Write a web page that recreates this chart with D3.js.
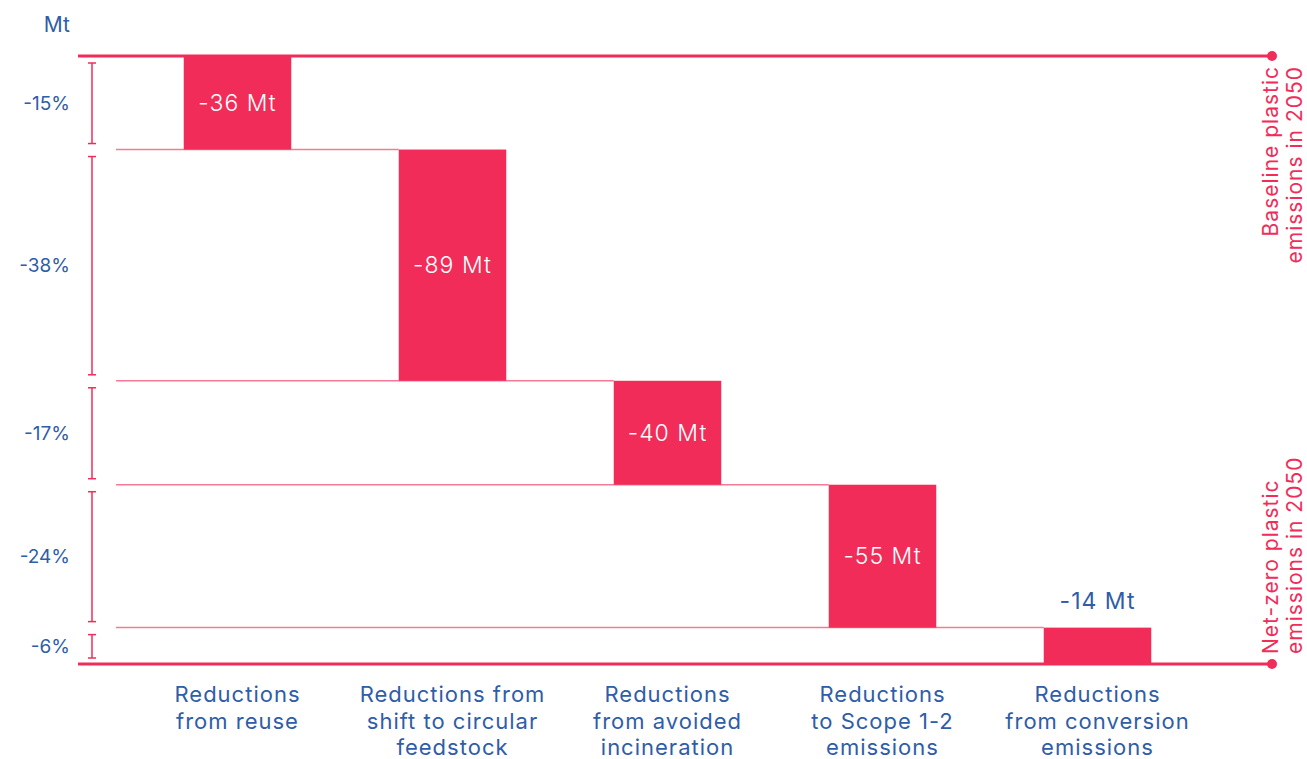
<!DOCTYPE html>
<html>
<head>
<meta charset="utf-8">
<script src="https://cdn.jsdelivr.net/npm/d3@7"></script>
<style>
  body { margin: 0; background: #fff; }
  svg { display: block; font-family: Inter, "Noto Sans", sans-serif; }
</style>
</head>
<body>
<div id="chart"></div>
<script>
// data
const categories = ['reuse', 'feedstock', 'incineration', 'scope', 'conversion'];
const categoryLines = [
  ['Reductions', 'from reuse'],
  ['Reductions from', 'shift to circular', 'feedstock'],
  ['Reductions', 'from avoided', 'incineration'],
  ['Reductions', 'to Scope 1-2', 'emissions'],
  ['Reductions', 'from conversion', 'emissions']
];
const reductions = [36, 89, 40, 55, 14];
const shares = ['-15%', '-38%', '-17%', '-24%', '-6%'];
const baselineLabel = ['Baseline plastic', 'emissions in 2050'];
const netZeroLabel = ['Net-zero plastic', 'emissions in 2050'];

const width = 1307, height = 759;
const pink = '#f22c59', lightPink = '#f47b96', blue = '#2f5da7';

const svg = d3.select('#chart').append('svg')
  .attr('width', width)
  .attr('height', height);

// running totals for the waterfall
let acc = 0;
const steps = reductions.map((v, i) => {
  const s = { cat: categories[i], start: acc, end: acc + v, value: v, share: shares[i] };
  acc += v;
  return s;
});
const total = acc;

const x = d3.scaleBand()
  .domain(categories)
  .range([130, 1205])
  .paddingInner(0.5)
  .paddingOuter(0.25);

const y = d3.scaleLinear()
  .domain([0, total])
  .range([56, 664]);

// thin connectors from the left to the next bar
svg.selectAll('line.conn')
  .data(steps.slice(0, -1))
  .enter().append('line')
  .attr('class', 'conn')
  .attr('x1', 116)
  .attr('x2', (d, i) => x(categories[i + 1]))
  .attr('y1', d => y(d.end))
  .attr('y2', d => y(d.end))
  .attr('stroke', lightPink)
  .attr('stroke-width', 1.5);

// bars
svg.selectAll('rect')
  .data(steps)
  .enter().append('rect')
  .attr('x', d => x(d.cat))
  .attr('y', d => y(d.start))
  .attr('width', x.bandwidth())
  .attr('height', d => y(d.end) - y(d.start))
  .attr('fill', pink);

// bar labels, the small last one goes above the bar
svg.selectAll('text.val')
  .data(steps)
  .enter().append('text')
  .attr('class', 'val')
  .attr('x', d => x(d.cat) + x.bandwidth() / 2)
  .attr('y', d => d.value < 20 ? y(d.start) - 19 : (y(d.start) + y(d.end)) / 2 + 8)
  .attr('text-anchor', 'middle')
  .attr('font-size', 23)
  .attr('font-weight', d => d.value < 20 ? 400 : 300)
  .attr('letter-spacing', 1)
  .attr('fill', d => d.value < 20 ? blue : '#fff')
  .text(d => '-' + d.value + ' Mt');

// baseline and net-zero lines
const ends = [
  { v: 0, lines: baselineLabel, anchor: 'end', off: 10 },
  { v: total, lines: netZeroLabel, anchor: 'start', off: -10 }
];
ends.forEach(e => {
  svg.append('line')
    .attr('x1', 78).attr('x2', 1272)
    .attr('y1', y(e.v)).attr('y2', y(e.v))
    .attr('stroke', pink)
    .attr('stroke-width', 3);
  svg.append('circle')
    .attr('cx', 1272).attr('cy', y(e.v))
    .attr('r', 5)
    .attr('fill', pink);
  const t = svg.append('text')
    .attr('transform', `translate(1278,${y(e.v) + e.off}) rotate(-90)`)
    .attr('text-anchor', e.anchor)
    .attr('font-size', 21)
    .attr('letter-spacing', 1)
    .attr('fill', pink);
  e.lines.forEach((l, i) => {
    t.append('tspan').attr('x', 0).attr('y', i * 24).text(l);
  });
});

// brackets on the left with shares
const bx = 92, cap = 4;
const brackets = svg.selectAll('g.br')
  .data(steps)
  .enter().append('g')
  .attr('class', 'br')
  .attr('stroke', pink)
  .attr('stroke-width', 1.5);
brackets.append('line')
  .attr('x1', bx).attr('x2', bx)
  .attr('y1', d => y(d.start) + 7)
  .attr('y2', d => y(d.end) - 6);
brackets.append('line')
  .attr('x1', bx - cap).attr('x2', bx + cap)
  .attr('y1', d => y(d.start) + 7)
  .attr('y2', d => y(d.start) + 7);
brackets.append('line')
  .attr('x1', bx - cap).attr('x2', bx + cap)
  .attr('y1', d => y(d.end) - 6)
  .attr('y2', d => y(d.end) - 6);

svg.selectAll('text.share')
  .data(steps)
  .enter().append('text')
  .attr('class', 'share')
  .attr('x', 70)
  .attr('y', d => (y(d.start) + y(d.end)) / 2 + 7)
  .attr('text-anchor', 'end')
  .attr('font-size', 19)
  .attr('fill', blue)
  .text(d => d.share);

svg.append('text')
  .attr('x', 70).attr('y', 32)
  .attr('text-anchor', 'end')
  .attr('font-size', 21)
  .attr('fill', blue)
  .text('Mt');

// category labels
const cl = svg.selectAll('text.cat')
  .data(categories)
  .enter().append('text')
  .attr('class', 'cat')
  .attr('text-anchor', 'middle')
  .attr('font-size', 22)
  .attr('letter-spacing', 1)
  .attr('fill', blue);
cl.each(function (c, i) {
  categoryLines[i].forEach((l, j) => {
    d3.select(this).append('tspan')
      .attr('x', x(c) + x.bandwidth() / 2)
      .attr('y', 702 + j * 26.5)
      .text(l);
  });
});
</script>
</body>
</html>
